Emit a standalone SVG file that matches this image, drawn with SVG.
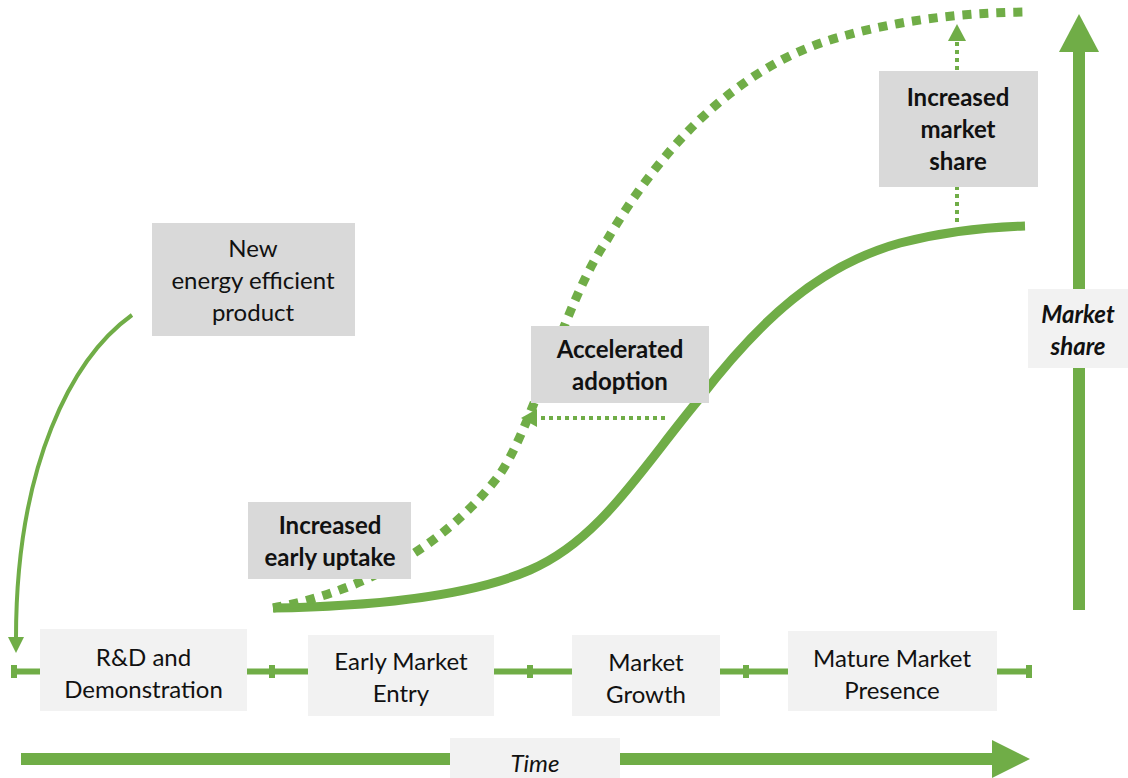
<svg xmlns="http://www.w3.org/2000/svg" width="1128" height="778" viewBox="0 0 1128 778">
  <style>
    .stage { fill: #F2F2F2; }
    .label { fill: #D9D9D9; }
    .green { fill: #70AD47; }
    text { font-family: Lato, "Open Sans", "Liberation Sans", sans-serif; font-size: 24px; fill: #111111; text-anchor: middle; }
    .b { font-weight: bold; }
    .i { font-style: italic; }
    .solid { fill: none; stroke: #70AD47; stroke-width: 9; }
    .dashed { fill: none; stroke: #70AD47; stroke-width: 9; stroke-dasharray: 9 8; }
    .dotted { fill: none; stroke: #70AD47; stroke-width: 4; stroke-dasharray: 4 4; }
    .thin { fill: none; stroke: #70AD47; stroke-width: 4; }
  </style>
  <defs>
    <marker id="head" viewBox="0 0 10 10" refX="9" refY="5" markerWidth="4.2" markerHeight="4.2" orient="auto" markerUnits="strokeWidth">
      <path d="M0,0 L10,5 L0,10 Z" fill="#70AD47"/>
    </marker>
  </defs>

  <rect width="1128" height="778" fill="#FFFFFF"/>

  <!-- stage timeline with ticks -->
  <g id="timeline">
    <rect class="green" x="14" y="668.5" width="1016" height="6"/>
    <rect class="green" x="11" y="665" width="6" height="13"/>
    <rect class="green" x="269" y="665" width="6" height="13"/>
    <rect class="green" x="527" y="665" width="6" height="13"/>
    <rect class="green" x="743" y="665" width="6" height="13"/>
    <rect class="green" x="1026" y="665" width="6" height="13"/>
  </g>

  <!-- axis arrows -->
  <g id="time-axis">
    <rect class="green" x="21" y="753" width="972" height="12"/>
    <polygon class="green" points="992,740 1030,759 992,778"/>
  </g>
  <g id="share-axis">
    <rect class="green" x="1073" y="50" width="12" height="560"/>
    <polygon class="green" points="1059,52 1079,14 1099,52"/>
  </g>

  <g id="connectors">
    <!-- product feeding into R&D -->
    <path class="thin" d="M132,315 C72,358 16,465 16,638"/>
    <polygon class="green" points="8,637 24,637 16,653"/>
    <!-- baseline adoption curve -->
    <path class="solid" d="M273,608 C380,606 470,596 530,570 C600,540 640,470 700,398 C760,320 820,265 900,243 C950,230 990,227 1025,226"/>
    <!-- accelerated adoption curve -->
    <path class="dashed" d="M273,608 C360,592 440,550 497,478 C530,436 565,300 607,240 C645,175 720,70 840,37 C900,20 960,13 1025,12"/>
    <!-- shift arrows -->
    <path class="dotted" d="M665,418 L536,418"/>
    <polygon class="green" points="521,418 537,409 537,427"/>
    <path class="dotted" d="M957,222 L957,40"/>
    <polygon class="green" points="957,24 948,41 966,41"/>
  </g>

  <g id="node-new-product">
    <rect class="label" x="152" y="223" width="203" height="113"/>
    <text x="253" y="257">New</text>
    <text x="253" y="289">energy efficient</text>
    <text x="253" y="321">product</text>
  </g>

  <g id="node-early-uptake">
    <rect class="label" x="248" y="502" width="163" height="77"/>
    <text class="b" x="330" y="534">Increased</text>
    <text class="b" x="330" y="566">early uptake</text>
  </g>

  <g id="node-accelerated">
    <rect class="label" x="531" y="326" width="178" height="77"/>
    <text class="b" x="620" y="358">Accelerated</text>
    <text class="b" x="620" y="390">adoption</text>
  </g>

  <g id="node-market-share-gain">
    <rect class="label" x="879" y="71" width="159" height="116"/>
    <text class="b" x="958" y="106">Increased</text>
    <text class="b" x="958" y="138">market</text>
    <text class="b" x="958" y="170">share</text>
  </g>

  <g id="node-rd">
    <rect class="stage" x="40" y="629" width="207" height="82"/>
    <text x="143.5" y="666">R&amp;D and</text>
    <text x="143.5" y="698">Demonstration</text>
  </g>

  <g id="node-early-entry">
    <rect class="stage" x="308" y="635" width="186" height="81"/>
    <text x="401" y="670">Early Market</text>
    <text x="401" y="702">Entry</text>
  </g>

  <g id="node-growth">
    <rect class="stage" x="572" y="635" width="148" height="81"/>
    <text x="646" y="671">Market</text>
    <text x="646" y="703">Growth</text>
  </g>

  <g id="node-mature">
    <rect class="stage" x="788" y="631" width="209" height="80"/>
    <text x="892" y="667">Mature Market</text>
    <text x="892" y="699">Presence</text>
  </g>

  <g id="node-time">
    <rect class="stage" x="450" y="738" width="170" height="40"/>
    <text class="i" x="535" y="772">Time</text>
  </g>

  <g id="node-market-share">
    <rect class="stage" x="1028" y="289" width="100" height="79"/>
    <text class="b i" x="1078" y="323">Market</text>
    <text class="b i" x="1078" y="355">share</text>
  </g>
</svg>
